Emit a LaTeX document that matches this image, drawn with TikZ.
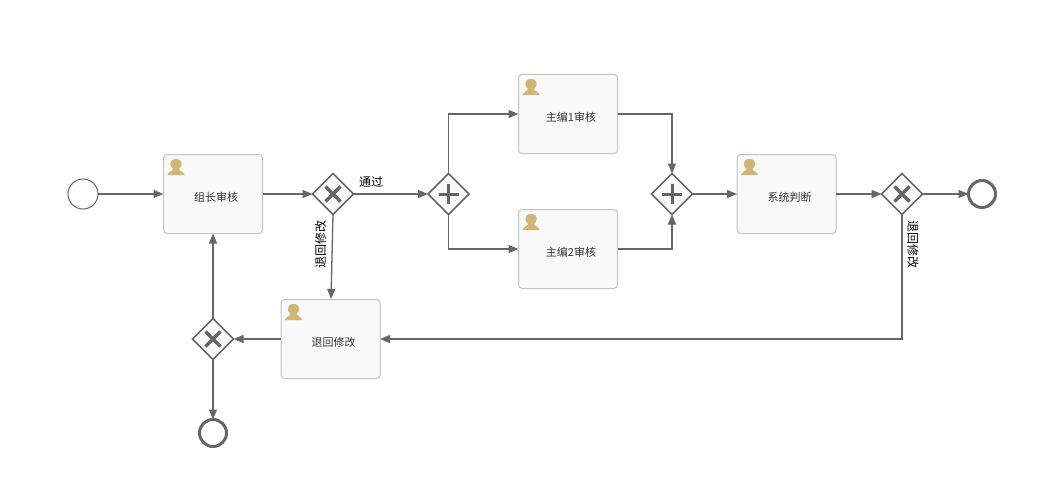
\documentclass[tikz,border=0pt]{standalone}
\usepackage{fontspec}
\newfontfamily\cjk{Noto Sans CJK SC}
\usetikzlibrary{arrows.meta}
\definecolor{ln}{HTML}{666666}
\definecolor{taskfill}{HTML}{F9F9F9}
\definecolor{taskline}{HTML}{C4C4C4}
\definecolor{person}{HTML}{D1B574}
\tikzset{
  x=1pt,y=-1pt,
  flow/.style={draw=ln,line width=1.3pt,-{Triangle[length=10pt,width=8pt]}},
  task/.style={draw=taskline,line width=1pt,fill=taskfill,rounded corners=3.5pt,minimum width=99pt,minimum height=79pt,inner sep=0pt,outer sep=0pt,font=\cjk\fontsize{11}{12}\selectfont,text=black!80},
  mk/.style={draw=ln,line width=3.5pt},
  startev/.style={circle,draw=ln,line width=1pt,fill=white,minimum size=30pt,inner sep=0pt,outer sep=0pt},
  endev/.style={circle,draw=ln,line width=3pt,fill=white,minimum size=27pt,inner sep=0pt,outer sep=0pt},
  lab/.style={font=\cjk\fontsize{12}{12}\selectfont,text=black,inner sep=0pt},
}
\newcommand{\tasktext}[1]{\raisebox{-7.5pt}[0pt][0pt]{\hspace*{6pt}#1}}
\newcommand{\usericon}[2]{%
  \fill[person] (#1-8.5,#2+8) .. controls (#1-8.2,#2+4.8) and (#1-3.5,#2+4.5) .. (#1-3,#2+2)
    .. controls (#1-7,#2-1) and (#1-7,#2-8) .. (#1,#2-8)
    .. controls (#1+7,#2-8) and (#1+7,#2-1) .. (#1+3,#2+2)
    .. controls (#1+3.5,#2+4.5) and (#1+8.2,#2+4.8) .. (#1+8.5,#2+8) -- cycle;}
\newcommand{\gatewayshape}[3]{%
  \draw[draw=ln,line width=1.6pt,fill=taskfill] (#1-20.5,#2) -- (#1,#2-20.5) -- (#1+20.5,#2) -- (#1,#2+20.5) -- cycle;
  \ifnum#3=0
    \draw[mk] (#1-7.5,#2-7.5) -- (#1+7.5,#2+7.5) (#1-7.5,#2+7.5) -- (#1+7.5,#2-7.5);
  \else
    \draw[mk,line width=3pt] (#1-10,#2) -- (#1+10,#2) (#1,#2-10) -- (#1,#2+10);
  \fi}
\begin{document}
\begin{tikzpicture}
\useasboundingbox (0,0) rectangle (1044,503);
\fill[white] (0,0) rectangle (1044,503);

\node[startev] (s) at (83,194) {};
\node[task] (t1) at (213,194) {\tasktext{组长审核}};
\node[task] (t2) at (568,114) {\tasktext{主编1审核}};
\node[task] (t3) at (568,249) {\tasktext{主编2审核}};
\node[task] (t4) at (786.5,194) {\tasktext{系统判断}};
\node[task] (t5) at (330.5,339) {\tasktext{退回修改}};

\usericon{176}{167}
\usericon{531}{87}
\usericon{531}{222}
\usericon{749.5}{167}
\usericon{293.5}{312}

\gatewayshape{333}{194}{0}
\gatewayshape{448.5}{194}{1}
\gatewayshape{672}{194}{1}
\gatewayshape{902}{194}{0}
\gatewayshape{213}{339}{0}

\node[endev] (e1) at (982,194) {};
\node[endev] (e2) at (213,433) {};

\draw[flow] (s) -- (t1);
\draw[flow] (t1) -- (312.5,194);
\draw[flow] (353.5,194) -- (428,194);
\draw[flow] (448.5,173.5) |- (t2);
\draw[flow] (448.5,214.5) |- (t3);
\draw[flow] (t2) -| (672,173.5);
\draw[flow] (t3) -| (672,214.5);
\draw[flow] (692.5,194) -- (t4);
\draw[flow] (t4) -- (881.5,194);
\draw[flow] (922.5,194) -- (e1);
\draw[flow] (333,214.5) -- (331,299);
\draw[flow] (902,214.5) -- (902,339) -- (t5.east);
\draw[flow] (t5) -- (233.5,339);
\draw[flow] (213,318.5) -- (t1);
\draw[flow] (213,359.5) -- (e2);

\node[lab] (l1) at (371,182) {通过};
\node[lab,rotate=90] (l2) at (320.5,244) {退回修改};
\node[lab,rotate=-90] (l3) at (913,244) {退回修改};
\end{tikzpicture}
\end{document}
